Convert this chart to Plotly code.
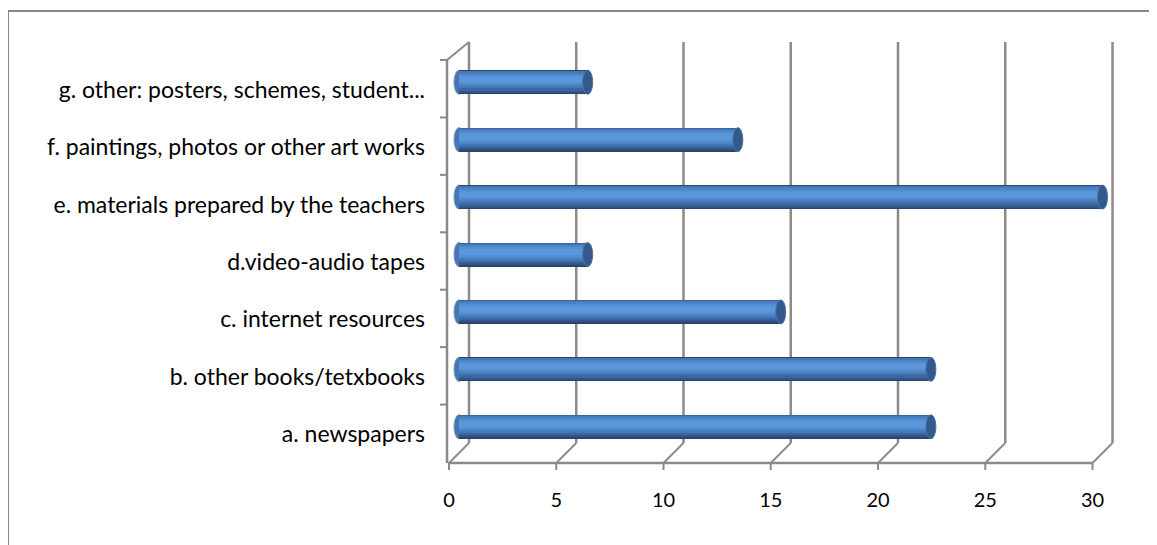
import plotly.graph_objects as go

# ---- data ----
categories = [
    "a. newspapers",
    "b. other books/tetxbooks",
    "c. internet resources",
    "d.video-audio tapes",
    "e. materials prepared by the teachers",
    "f. paintings, photos or other art works",
    "g. other: posters, schemes, student...",
]
values = [22, 22, 15, 6, 30, 13, 6]
x_ticks = [0, 5, 10, 15, 20, 25, 30]

# ---- layout geometry (pixels, figure coordinates; page adds 8px body margin) ----
W, H = 1157, 545
PAGE = 8
ML, MR, MT, MB = 440 - PAGE, 42 + PAGE, 51 - PAGE, 92 + PAGE
PW, PH = W - ML - MR, H - MT - MB
PPU = 21.45            # pixels per unit on x
X0PX = 459 - PAGE      # pixel of value 0 (mid depth)
r0 = -(X0PX - ML) / PPU
r1 = r0 + PW / PPU
D = 10                 # half depth of the 3D box in px

def py(p):  # figure pixels from top -> paper y
    return (H - MB - p) / PH

def pxp(p):  # figure pixels from left -> paper x
    return (p - ML) / PW

FONT = "Lato, Carlito, Calibri, sans-serif"
GRID = "#8E8B86"
WALL = "#8A8A8A"

fig = go.Figure()

# cylinder-like bars built from layered overlays (pixel bands from bottom)
U = 1.0 / (PH / len(categories))   # category units per pixel
BPX = 24
BW = BPX * U
BOFF = -BW / 2 - 2.5 * U
bands = [
    (0, 24, "#2A456D"),
    (1.5, 23.5, "#325583"),
    (3.5, 23.5, "#3B679E"),
    (6, 23, "#4577B6"),
    (8, 21.5, "#4D84C6"),
    (10, 19.5, "#5590D3"),
    (12, 17.5, "#5B97DB"),
]
for s, e, col in bands:
    fig.add_trace(go.Bar(
        orientation="h", x=values, y=categories,
        width=(e - s) * U, offset=BOFF + s * U,
        marker=dict(color=col, line=dict(width=0)),
        hoverinfo="skip", showlegend=False,
    ))

shapes = []
# back-wall gridlines + floor diagonals + front ticks
for v in x_ticks:
    shapes.append(dict(type="line", xref="x", yref="paper", xsizemode="pixel", xanchor=v,
                       x0=D, x1=D, y0=py(H - MB - D), y1=py(MT - 9),
                       line=dict(color=GRID, width=2.5), layer="below"))
    shapes.append(dict(type="line", xref="x", yref="paper", xsizemode="pixel", xanchor=v,
                       x0=D, x1=-D, y0=py(H - MB - D), y1=py(H - MB + D),
                       line=dict(color=GRID, width=2), layer="below"))
    shapes.append(dict(type="line", xref="x", yref="paper", xsizemode="pixel", xanchor=v,
                       x0=-D, x1=-D, y0=py(H - MB + D), y1=py(H - MB + D + 7),
                       line=dict(color=WALL, width=2), layer="below"))

# front baseline
off_u = D / PPU
shapes.append(dict(type="line", xref="x", yref="paper",
                   x0=x_ticks[0] - off_u - 0.05, x1=x_ticks[-1] - off_u,
                   y0=py(H - MB + D), y1=py(H - MB + D),
                   line=dict(color=WALL, width=2.5), layer="below"))
# left wall front edge + top diagonal
shapes.append(dict(type="line", xref="x", yref="paper", xsizemode="pixel", xanchor=0,
                   x0=-12, x1=-12, y0=py(H - MB + D), y1=py(MT + 9),
                   line=dict(color=WALL, width=2.5), layer="below"))
shapes.append(dict(type="line", xref="x", yref="paper", xsizemode="pixel", xanchor=0,
                   x0=-12, x1=D, y0=py(MT + 9), y1=py(MT - 9),
                   line=dict(color=GRID, width=2), layer="below"))
# left wall ticks at category boundaries (front)
for k in range(len(categories) + 1):
    shapes.append(dict(type="line", xref="x", yref="y", xsizemode="pixel", ysizemode="pixel",
                       xanchor=0, yanchor=k - 0.5,
                       x0=-19, x1=-12, y0=-9, y1=-9,
                       line=dict(color=WALL, width=2), layer="below"))

# cylinder ends
for i, v in enumerate(values):
    shapes.append(dict(type="circle", xref="x", yref="y", xsizemode="pixel", xanchor=0,
                       x0=-5, x1=5, y0=i + BOFF, y1=i + BOFF + BW,
                       fillcolor="#4577B6", line=dict(color="#7E93B0", width=1), layer="below"))
    shapes.append(dict(type="circle", xref="x", yref="y", xsizemode="pixel", xanchor=v,
                       x0=-5, x1=5, y0=i + BOFF, y1=i + BOFF + BW,
                       fillcolor="#34598C", line=dict(color="#4A72A6", width=1), layer="above"))

# outer chart frame
shapes.append(dict(type="rect", xref="paper", yref="paper",
                   x0=pxp(8 - PAGE), x1=pxp(W + 20), y0=py(H + 20), y1=py(11 - PAGE),
                   line=dict(color="#888888", width=2), fillcolor="rgba(0,0,0,0)", layer="below"))

fig.update_layout(
    width=W, height=H,
    margin=dict(l=ML, r=MR, t=MT, b=MB),
    paper_bgcolor="white", plot_bgcolor="white",
    barmode="overlay", bargap=0,
    shapes=shapes,
    font=dict(family=FONT, size=20, color="black"),
    xaxis=dict(range=[r0, r1], tickvals=x_ticks, showgrid=False, zeroline=False,
               showline=False, ticks="", ticklabelshift=-D, ticklabelstandoff=33,
               tickfont=dict(family=FONT, size=20, color="black")),
    yaxis=dict(type="category", categoryorder="array", categoryarray=categories,
               range=[-0.5, len(categories) - 0.5], showgrid=False, zeroline=False,
               showline=False, ticks="", ticklabelshift=10, ticklabelstandoff=14,
               tickfont=dict(family=FONT, size=23, color="black")),
)

fig.write_html("out.html")
